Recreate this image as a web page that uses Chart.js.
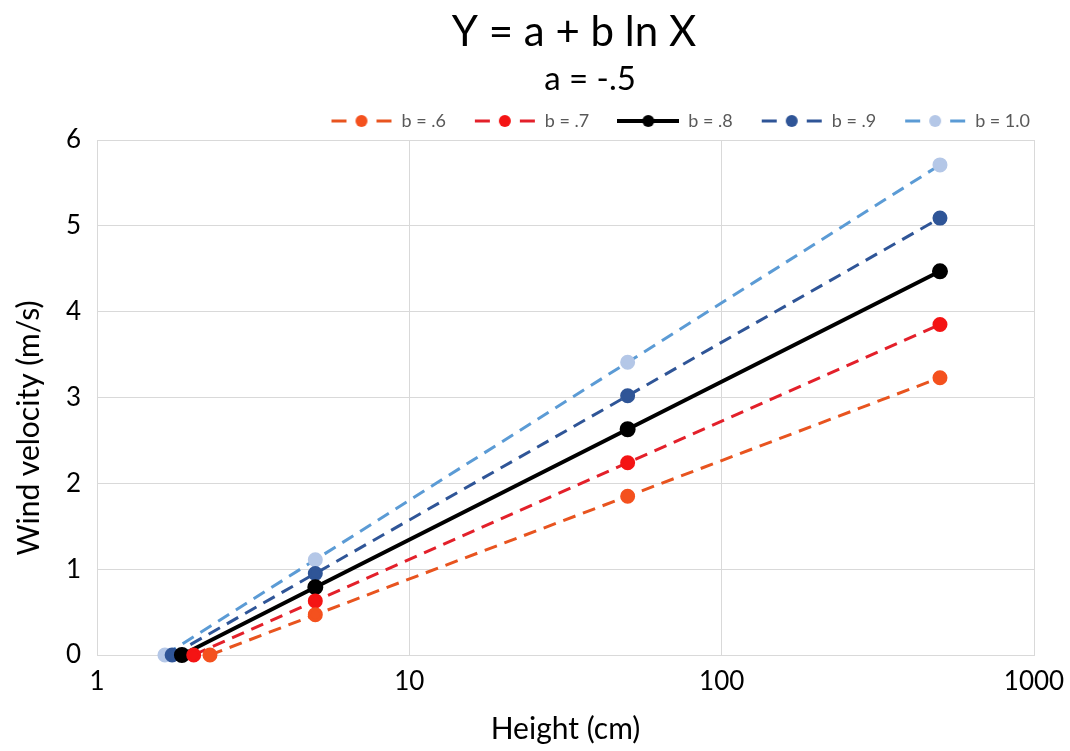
<!DOCTYPE html>
<html>
<head>
<meta charset="utf-8">
<script src="https://cdn.jsdelivr.net/npm/chart.js@4"></script>
<style>
  html, body { margin: 0; padding: 0; background: #fff; }
  #wrap { width: 1070px; height: 751px; }
</style>
</head>
<body>
<div id="wrap"><canvas id="windChart" width="1070" height="751"></canvas></div>
<script>
// ------------------- Data -------------------
const seriesLabels = ['b = .6', 'b = .7', 'b = .8', 'b = .9', 'b = 1.0'];

const heightsB06 = [2.30, 5, 50, 500];
const heightsB07 = [2.04, 5, 50, 500];
const heightsB08 = [1.87, 5, 50, 500];
const heightsB09 = [1.74, 5, 50, 500];
const heightsB10 = [1.65, 5, 50, 500];

const velocityB06 = [0, 0.47, 1.85, 3.23];
const velocityB07 = [0, 0.63, 2.24, 3.85];
const velocityB08 = [0, 0.79, 2.63, 4.47];
const velocityB09 = [0, 0.95, 3.02, 5.09];
const velocityB10 = [0, 1.11, 3.41, 5.71];

const xTicks = [1, 10, 100, 1000];
const yTicks = [0, 1, 2, 3, 4, 5, 6];

// ------------------- Styles -------------------
const FONT = 'Lato, "Open Sans", sans-serif';
const styles = [
    { line: '#e8541f', point: '#f4511e', width: 3, dash: [13, 8] },
    { line: '#e3202a', point: '#f41414', width: 3, dash: [13, 8] },
    { line: '#000000', point: '#000000', width: 4, dash: [] },
    { line: '#2f5597', point: '#2f5597', width: 3, dash: [13, 8] },
    { line: '#5b9bd5', point: '#b4c7e7', width: 3, dash: [13, 8] }
];

const toPoints = (xs, ys) => xs.map((x, i) => ({ x: x, y: ys[i] }));
const allHeights = [heightsB06, heightsB07, heightsB08, heightsB09, heightsB10];
const allVelocity = [velocityB06, velocityB07, velocityB08, velocityB09, velocityB10];

// legend swatch: line + dot like Excel
function makeSwatch(st) {
    const c = document.createElement('canvas');
    c.width = 62; c.height = 14;
    const g = c.getContext('2d');
    g.strokeStyle = st.line;
    g.lineWidth = st.width;
    g.beginPath();
    if (st.dash.length) {
        g.moveTo(1, 7); g.lineTo(16, 7);
        g.moveTo(46, 7); g.lineTo(61, 7);
    } else {
        g.moveTo(0, 7); g.lineTo(62, 7);
    }
    g.stroke();
    g.fillStyle = st.point;
    g.beginPath();
    g.arc(31, 7, 6, 0, Math.PI * 2);
    g.fill();
    return c;
}

const datasets = seriesLabels.map((lbl, i) => ({
    label: lbl,
    data: toPoints(allHeights[i], allVelocity[i]),
    borderColor: styles[i].line,
    backgroundColor: styles[i].point,
    pointBackgroundColor: styles[i].point,
    pointBorderColor: styles[i].point,
    pointRadius: 6,
    pointHoverRadius: 6,
    borderWidth: styles[i].width,
    borderDash: styles[i].dash,
    pointStyle: 'circle',
    legendSwatch: makeSwatch(styles[i]),
    fill: false,
    tension: 0,
    clip: false
}));

// ------------------- Titles plugin -------------------
const titlePlugin = {
    id: 'titles',
    afterLayout(chart) {
        // push legend row to the right, Excel puts it nearer the edge
        chart.legend.left += 24;
        chart.legend.right += 24;
    },
    afterDraw(chart) {
        const c = chart.ctx;
        c.save();
        c.fillStyle = '#000';
        c.textAlign = 'center';
        c.textBaseline = 'alphabetic';
        c.font = '42px ' + FONT;
        c.fillText('Y = a + b ln X', 574, 46);
        c.font = '33px ' + FONT;
        c.fillText('a = -.5', 590, 90);
        // y axis title
        c.translate(29, 428);
        c.rotate(-Math.PI / 2);
        c.textBaseline = 'middle';
        c.font = '30px ' + FONT;
        c.fillText('Wind velocity (m/s)', 0, 0);
        c.restore();
    }
};

// ------------------- Chart -------------------
const ctx = document.getElementById('windChart').getContext('2d');
new Chart(ctx, {
    type: 'line',
    data: { datasets: datasets },
    plugins: [titlePlugin],
    options: {
        responsive: false,
        animation: false,
        layout: { padding: { top: 84, right: 36, left: 0, bottom: 0 } },
        plugins: {
            title: { display: false },
            tooltip: { enabled: false },
            legend: {
                display: true,
                position: 'top',
                align: 'end',
                labels: {
                    usePointStyle: true,
                    pointStyleWidth: 62,
                    boxHeight: 14,
                    padding: 28,
                    color: '#595959',
                    font: { family: FONT, size: 18 },
                    generateLabels(chart) {
                        return chart.data.datasets.map((d, i) => ({
                            text: d.label,
                            pointStyle: d.legendSwatch,
                            fillStyle: d.pointBackgroundColor,
                            strokeStyle: d.borderColor,
                            lineWidth: 0,
                            fontColor: '#595959',
                            hidden: false,
                            datasetIndex: i
                        }));
                    }
                }
            }
        },
        scales: {
            x: {
                type: 'logarithmic',
                min: 1,
                max: 1000,
                afterBuildTicks(scale) {
                    scale.ticks = xTicks.map(v => ({ value: v }));
                },
                afterFit(scale) {
                    scale.height = 96;
                    scale.paddingLeft = 0;
                    scale.paddingRight = 0;
                },
                grid: { color: '#d9d9d9', drawTicks: false, lineWidth: 1 },
                border: { color: '#d9d9d9' },
                ticks: {
                    color: '#000',
                    font: { family: FONT, size: 26 },
                    padding: 11,
                    maxRotation: 0,
                    callback: v => String(v)
                },
                title: {
                    display: true,
                    text: 'Height (cm)',
                    color: '#000',
                    font: { family: FONT, size: 30 },
                    padding: { top: 6 }
                }
            },
            y: {
                min: 0,
                max: 6,
                afterBuildTicks(scale) {
                    scale.ticks = yTicks.map(v => ({ value: v }));
                },
                afterFit(scale) { scale.width = 97; },
                grid: { color: '#d9d9d9', drawTicks: false, lineWidth: 1 },
                border: { color: '#d9d9d9' },
                ticks: {
                    color: '#000',
                    font: { family: FONT, size: 26 },
                    padding: 16
                }
            }
        }
    }
});
</script>
</body>
</html>
